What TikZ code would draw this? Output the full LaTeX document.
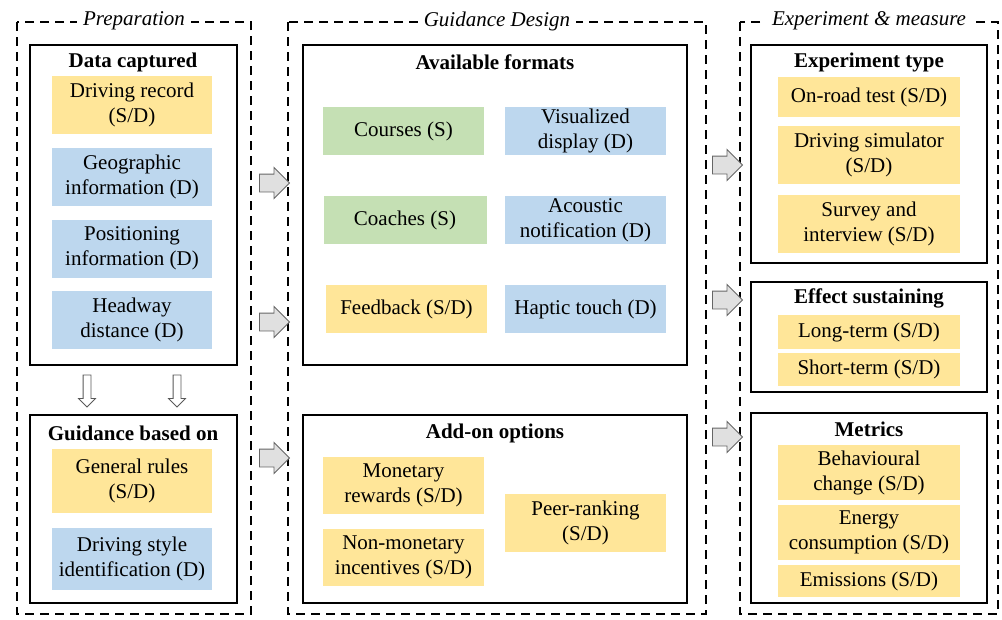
\documentclass[tikz,border=0pt]{standalone}
\usepackage{fontspec}
\setmainfont{Liberation Serif}
\usetikzlibrary{shapes.arrows}
\definecolor{cyel}{HTML}{FFE699}
\definecolor{cblu}{HTML}{BDD7EE}
\definecolor{cgrn}{HTML}{C5E0B4}
\tikzset{
  every node/.style={font=\fontsize{21}{25}\selectfont, align=center},
  stage/.style={draw, line width=2.4pt, dash pattern=on 9pt off 6pt},
  stagetitle/.style={fill=white, inner xsep=6pt, inner ysep=2pt, font=\fontsize{21}{25}\selectfont\itshape},
  group/.style={draw, line width=2.4pt},
  grouptitle/.style={font=\fontsize{21}{25}\selectfont\bfseries, inner sep=0pt},
  item/.style={inner sep=0pt, minimum width=#1},
  yb/.style={item=160pt, fill=cyel},
  bb/.style={item=160pt, fill=cblu},
  gb/.style={item=160pt, fill=cgrn},
  rarrow/.style={single arrow, draw=black!60, fill=black!12, line width=0.9pt,
    inner xsep=0pt, inner ysep=8.5pt, minimum height=30pt,
    single arrow head extend=6.5pt, single arrow head indent=0pt},
  darrow/.style={single arrow, draw=black!65, fill=white, line width=0.8pt,
    inner xsep=0pt, inner ysep=3.5pt, minimum height=32pt,
    single arrow head extend=4.5pt, single arrow head indent=0pt, rotate=-90},
}
\begin{document}
\begin{tikzpicture}[x=1pt,y=-1pt]
\useasboundingbox (0,0) rectangle (1002,619);

% stages
\draw[stage] (17,22) rectangle (251,614);
\node[stagetitle] (t1) at (134,21) {Preparation};
\draw[stage] (288,22) rectangle (706,614);
\node[stagetitle] (t2) at (497,21) {Guidance Design};
\draw[stage] (740,22) rectangle (998,614);
\node[stagetitle] (t3) at (869,21) {Experiment \& measure};

% groups
\draw[group] (30,45) rectangle (237,365);
\node[grouptitle] (g1) at (133,62) {Data captured};
\draw[group] (30,415) rectangle (237,603);
\node[grouptitle] (g2) at (133,433) {Guidance based on};
\draw[group] (303,45) rectangle (687,365);
\node[grouptitle] (g3) at (495,62) {Available formats};
\draw[group] (303,415) rectangle (687,603);
\node[grouptitle] (g4) at (495,433) {Add-on options};
\draw[group] (751,45) rectangle (987,263);
\node[grouptitle] (g5) at (869,62) {Experiment type};
\draw[group] (751,282) rectangle (987,392);
\node[grouptitle] (g6) at (869,298) {Effect sustaining};
\draw[group] (751,413) rectangle (987,603);
\node[grouptitle] (g7) at (869,429) {Metrics};

% Data captured
\node[yb, minimum height=58pt] (dr) at (132,105) {Driving record\\(S/D)};
\node[bb, minimum height=58pt] (gi) at (132,177) {Geographic\\information (D)};
\node[bb, minimum height=58pt] (pi) at (132,248.5) {Positioning\\information (D)};
\node[bb, minimum height=58pt] (hd) at (132,319.5) {Headway\\distance (D)};

% Guidance based on
\node[yb, minimum height=64pt] (gr) at (132,481) {General rules\\(S/D)};
\node[bb, minimum height=62pt] (ds) at (132,559) {Driving style\\identification (D)};

% Available formats
\node[gb, item=161pt, minimum height=48pt] (co) at (403.5,131) {Courses (S)};
\node[bb, item=161pt, minimum height=48pt] (vd) at (585.5,131) {Visualized\\display (D)};
\node[gb, item=163pt, minimum height=48pt] (ch) at (405,220) {Coaches (S)};
\node[bb, item=161pt, minimum height=48pt] (an) at (585.5,220) {Acoustic\\notification (D)};
\node[yb, item=161pt, minimum height=48pt] (fb) at (406.5,309) {Feedback (S/D)};
\node[bb, item=161pt, minimum height=48pt] (ht) at (585.5,309) {Haptic touch (D)};

% Add-on options
\node[yb, item=161pt, minimum height=57pt] (mr) at (403.5,485.5) {Monetary\\rewards (S/D)};
\node[yb, item=161pt, minimum height=57pt] (nm) at (403.5,557.5) {Non-monetary\\incentives (S/D)};
\node[yb, item=161pt, minimum height=58pt] (pr) at (585.5,523) {Peer-ranking\\(S/D)};

% Experiment type
\node[yb, item=182pt, minimum height=40pt] (or) at (869,97) {On-road test (S/D)};
\node[yb, item=182pt, minimum height=58pt] (dsim) at (869,155) {Driving simulator\\(S/D)};
\node[yb, item=182pt, minimum height=58pt] (si) at (869,224) {Survey and\\interview (S/D)};

% Effect sustaining
\node[yb, item=182pt, minimum height=34pt] (lt) at (869,332) {Long-term (S/D)};
\node[yb, item=182pt, minimum height=33pt] (st) at (869,369.5) {Short-term (S/D)};

% Metrics
\node[yb, item=182pt, minimum height=55pt] (bc) at (869,472.5) {Behavioural\\change (S/D)};
\node[yb, item=182pt, minimum height=55pt] (ec) at (869,532.5) {Energy\\consumption (S/D)};
\node[yb, item=182pt, minimum height=32pt] (em) at (869,581) {Emissions (S/D)};

% block arrows
\node[rarrow] (a1) at (270,183) {};
\node[rarrow] (a2) at (270,322) {};
\node[rarrow] (a3) at (270,458) {};
\node[rarrow] (a4) at (723,165) {};
\node[rarrow] (a5) at (723,300) {};
\node[rarrow] (a6) at (723,437) {};
\node[darrow] (d1) at (87,389) {};
\node[darrow] (d2) at (177,389) {};
\end{tikzpicture}
\end{document}
